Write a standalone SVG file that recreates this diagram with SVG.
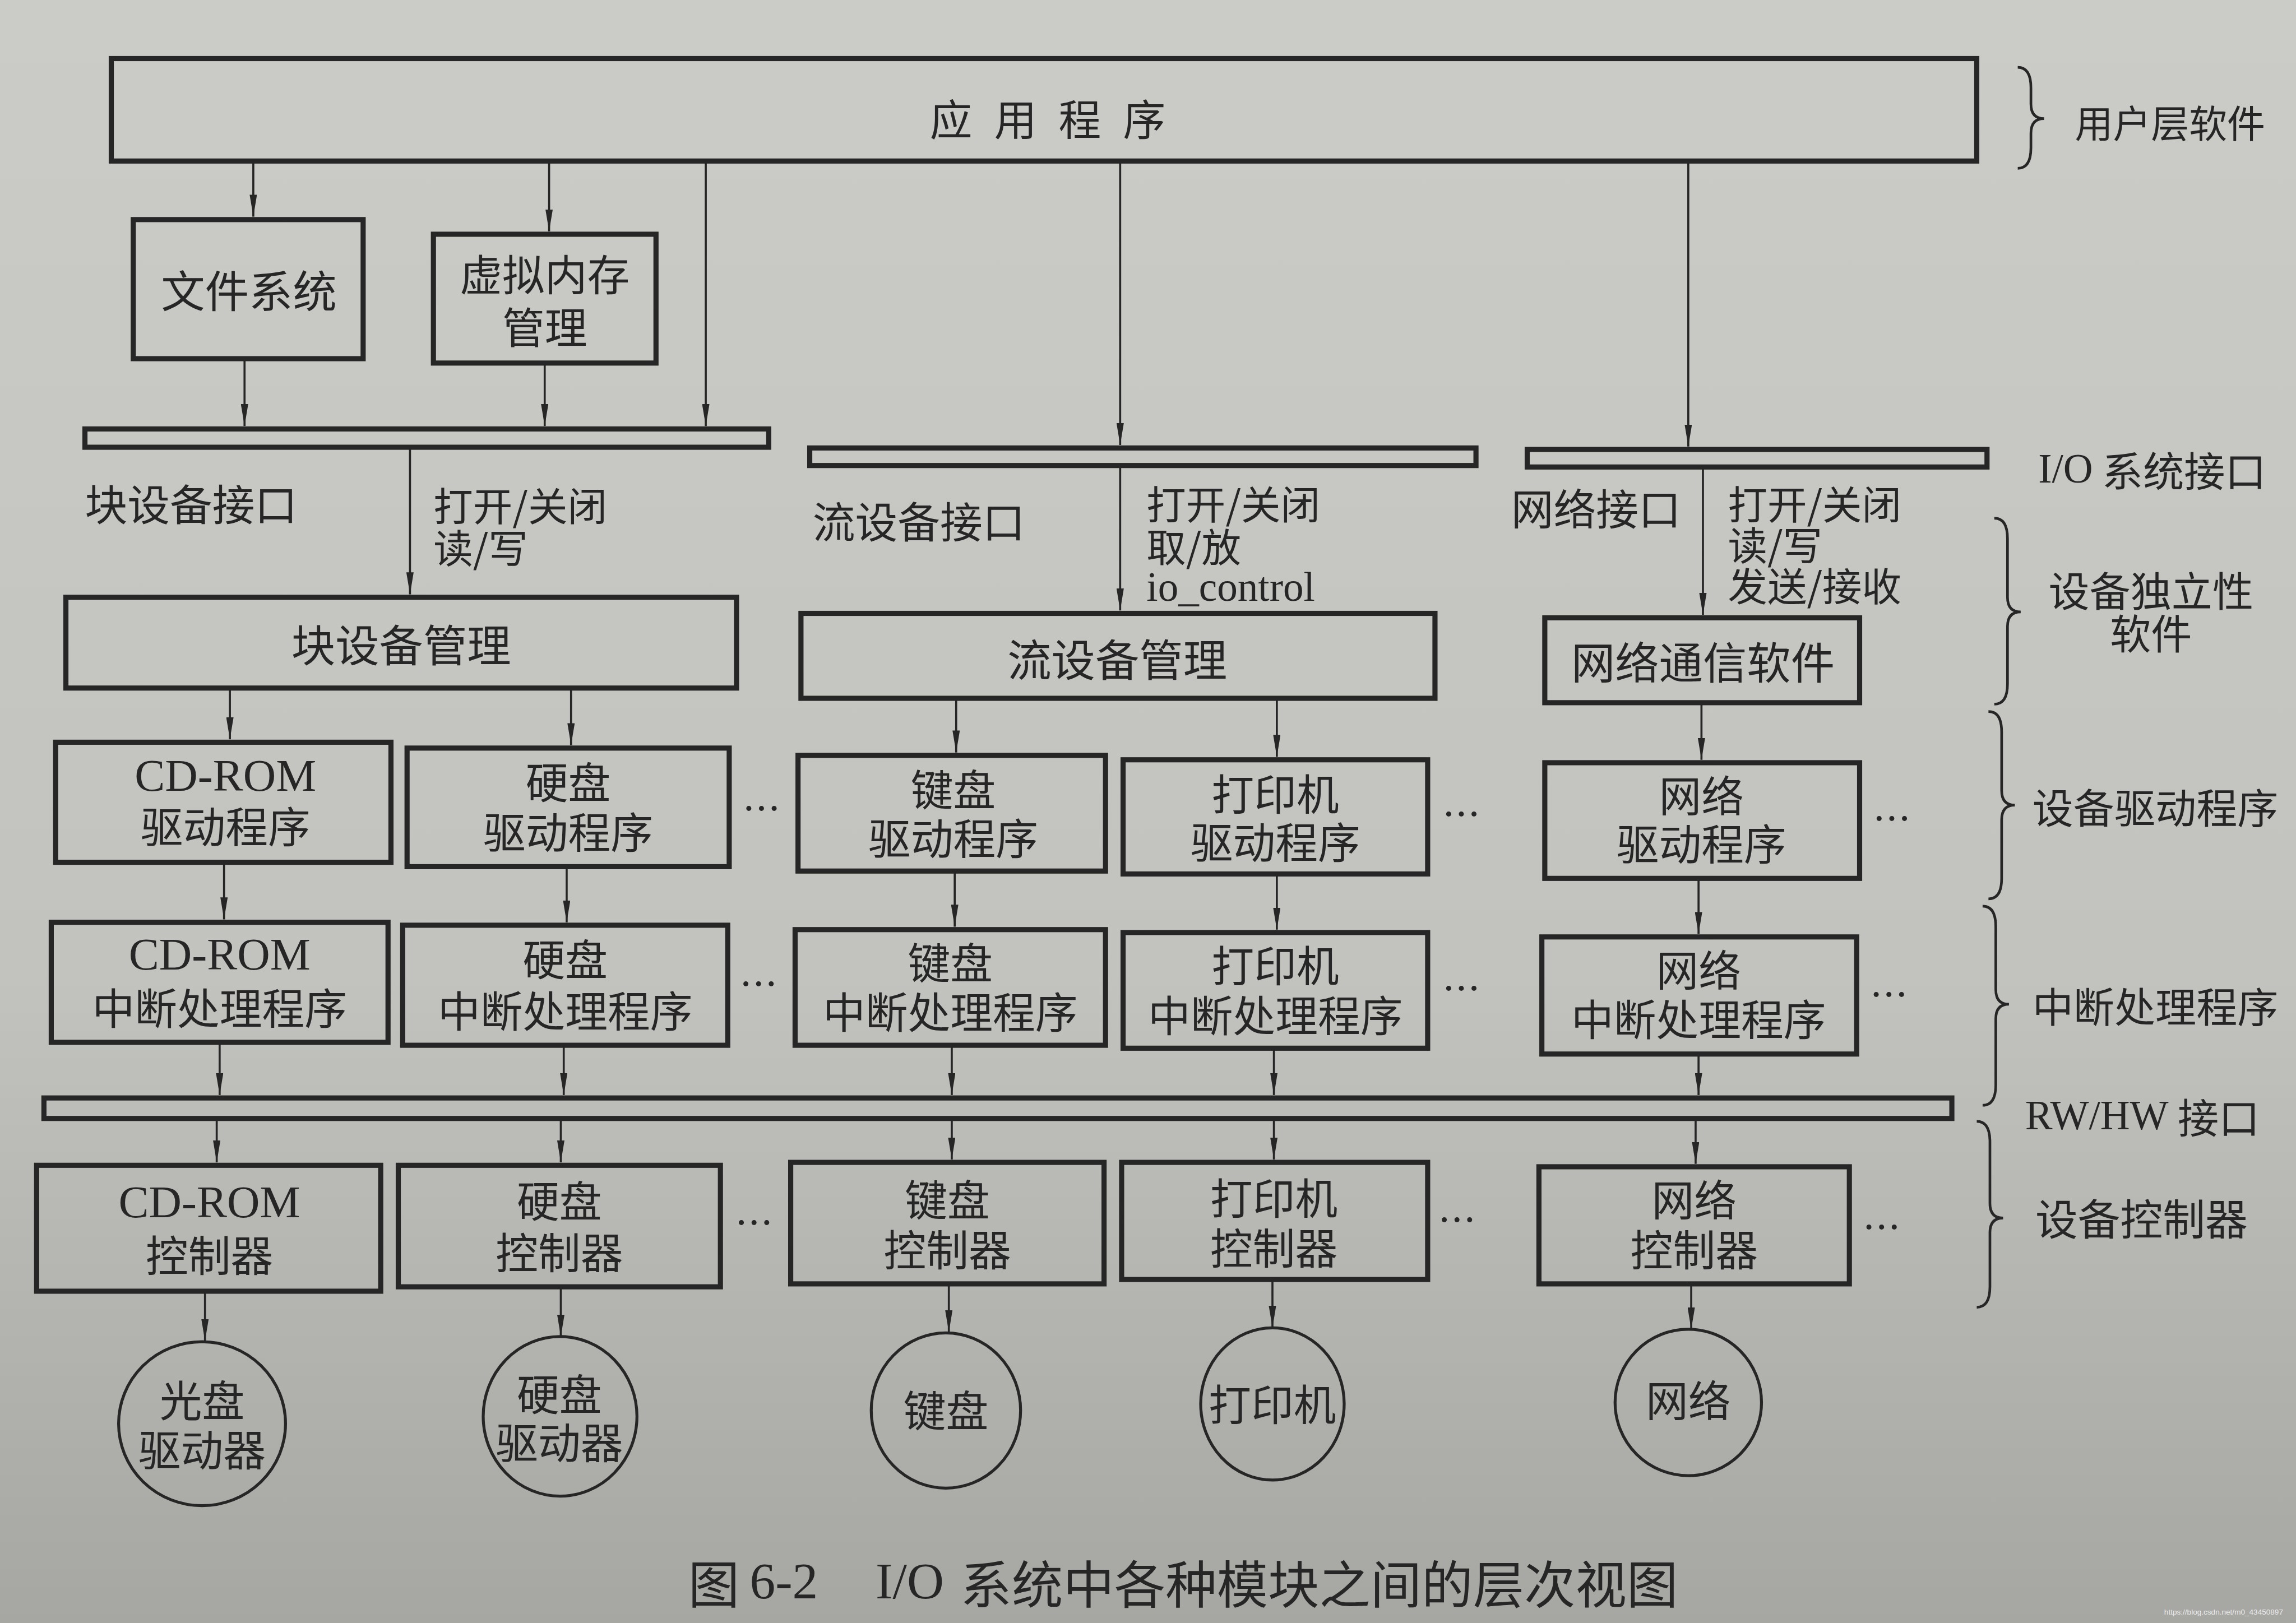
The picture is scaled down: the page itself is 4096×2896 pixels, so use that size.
<svg xmlns="http://www.w3.org/2000/svg" width="4096" height="2896" viewBox="0 0 4096 2896">
<defs>
<linearGradient id="bg" x1="0" y1="0" x2="0" y2="1">
<stop offset="0" stop-color="#cbcbc7"/>
<stop offset="0.6" stop-color="#c2c2be"/>
<stop offset="1" stop-color="#a6a6a2"/>
</linearGradient>
<marker id="ah" viewBox="0 0 15 5" refX="15" refY="2.5" markerWidth="15" markerHeight="5" orient="auto" markerUnits="userSpaceOnUse">
<path d="M0,0 L15,2.5 L0,5 Z" fill="#262626"/>
</marker>
<style>
.t{font-family:"Noto Sans CJK SC","Noto Sans",sans-serif;font-size:29px;fill:#262626;dominant-baseline:central}
.c{text-anchor:middle}
.s{font-family:"Liberation Serif","Noto Sans CJK SC",serif}
.box{fill:none;stroke:#262626;stroke-width:3.5}
.bar{fill:none;stroke:#262626;stroke-width:3.5}
.ell{fill:none;stroke:#262626;stroke-width:2}
.ln{fill:none;stroke:#262626;stroke-width:1.4;marker-end:url(#ah)}
.br{fill:none;stroke:#262626;stroke-width:1.8}
.r{font-size:28px}
.sl{font-size:27px}
.dots{font-size:26px}
</style>
</defs>
<rect x="0" y="0" width="4096" height="2896" fill="url(#bg)"/>
<g transform="scale(2.6122)">

<g id="connectors">
<line class="ln" x1="173" y1="110" x2="173" y2="148"/>
<line class="ln" x1="375" y1="110" x2="375" y2="158"/>
<line class="ln" x1="482" y1="110" x2="482" y2="291"/>
<line class="ln" x1="765" y1="110" x2="765" y2="304"/>
<line class="ln" x1="1153" y1="110" x2="1153" y2="305"/>
<line class="ln" x1="167" y1="245" x2="167" y2="291"/>
<line class="ln" x1="372" y1="248" x2="372" y2="291"/>
<line class="ln" x1="280" y1="306" x2="280" y2="406"/>
<line class="ln" x1="765" y1="318" x2="765" y2="417"/>
<line class="ln" x1="1163" y1="319" x2="1163" y2="420"/>
<line class="ln" x1="157" y1="470" x2="157" y2="505"/>
<line class="ln" x1="390" y1="470" x2="390" y2="509"/>
<line class="ln" x1="653" y1="477" x2="653" y2="514"/>
<line class="ln" x1="872" y1="477" x2="872" y2="517"/>
<line class="ln" x1="1162" y1="480" x2="1162" y2="519"/>
<line class="ln" x1="153" y1="589" x2="153" y2="628"/>
<line class="ln" x1="387" y1="592" x2="387" y2="630"/>
<line class="ln" x1="652" y1="595" x2="652" y2="633"/>
<line class="ln" x1="872" y1="597" x2="872" y2="635"/>
<line class="ln" x1="1160" y1="600" x2="1160" y2="638"/>
<line class="ln" x1="150" y1="712" x2="150" y2="748"/>
<line class="ln" x1="385" y1="714" x2="385" y2="748"/>
<line class="ln" x1="650" y1="714" x2="650" y2="748"/>
<line class="ln" x1="870" y1="716" x2="870" y2="748"/>
<line class="ln" x1="1160" y1="720" x2="1160" y2="748"/>
<line class="ln" x1="148" y1="765" x2="148" y2="794"/>
<line class="ln" x1="383" y1="765" x2="383" y2="794"/>
<line class="ln" x1="650" y1="765" x2="650" y2="792"/>
<line class="ln" x1="870" y1="765" x2="870" y2="792"/>
<line class="ln" x1="1158" y1="765" x2="1158" y2="795"/>
<line class="ln" x1="140" y1="882" x2="140" y2="916"/>
<line class="ln" x1="383" y1="879" x2="383" y2="913"/>
<line class="ln" x1="648" y1="877" x2="648" y2="910"/>
<line class="ln" x1="869" y1="874" x2="869" y2="907"/>
<line class="ln" x1="1155" y1="877" x2="1155" y2="908"/>
</g>

<g id="app"><rect class="box" x="76" y="40" width="1274" height="70"/><text class="t" x="635" y="80" style="letter-spacing:15px">应用程序</text></g>
<g id="filesys"><rect class="box" x="91" y="150" width="157" height="95"/><text class="t c" x="170" y="197" style="font-size:30px">文件系统</text></g>
<g id="vmem"><rect class="box" x="296" y="160" width="152" height="88"/><text class="t c" x="372" y="186">虚拟内存</text><text class="t c" x="372" y="222">管理</text></g>

<g id="bar-block"><rect class="bar" x="58" y="293" width="467" height="12.5"/></g>
<g id="bar-stream"><rect class="bar" x="553" y="306" width="455" height="12"/></g>
<g id="bar-net"><rect class="bar" x="1043" y="307" width="314" height="12"/></g>

<g id="lbl-block"><text class="t" x="58" y="343">块设备接口</text><text class="t sl" x="296" y="344">打开/关闭</text><text class="t sl" x="296" y="373">读/写</text></g>
<g id="lbl-stream"><text class="t" x="555" y="355">流设备接口</text><text class="t sl" x="783" y="343">打开/关闭</text><text class="t sl" x="783" y="372">取/放</text><text class="t s" x="783" y="401" style="font-size:28px">io_control</text></g>
<g id="lbl-net"><text class="t" x="1032" y="346">网络接口</text><text class="t sl" x="1180" y="343">打开/关闭</text><text class="t sl" x="1180" y="371">读/写</text><text class="t sl" x="1180" y="399">发送/接收</text></g>

<g id="blkmgr"><rect class="box" x="45" y="408" width="458" height="62"/><text class="t c" x="274" y="439" style="font-size:30px">块设备管理</text></g>
<g id="strmgr"><rect class="box" x="547" y="419" width="433" height="58"/><text class="t c" x="763" y="449" style="font-size:30px">流设备管理</text></g>
<g id="netsw"><rect class="box" x="1055" y="422" width="215" height="58"/><text class="t c" x="1163" y="451" style="font-size:30px">网络通信软件</text></g>

<g id="drv-cd"><rect class="box" x="38" y="507" width="229" height="82"/><text class="t c s" x="154" y="530" style="font-size:31px">CD-ROM</text><text class="t c" x="154" y="563">驱动程序</text></g>
<g id="drv-hd"><rect class="box" x="278" y="511" width="220" height="81"/><text class="t c" x="388" y="533">硬盘</text><text class="t c" x="388" y="567">驱动程序</text></g>
<g id="drv-kb"><rect class="box" x="545" y="516" width="210" height="79"/><text class="t c" x="651" y="538">键盘</text><text class="t c" x="651" y="571">驱动程序</text></g>
<g id="drv-pr"><rect class="box" x="767" y="519" width="208" height="78"/><text class="t c" x="871" y="541">打印机</text><text class="t c" x="871" y="574">驱动程序</text></g>
<g id="drv-nt"><rect class="box" x="1055" y="521" width="215" height="79"/><text class="t c" x="1162" y="542">网络</text><text class="t c" x="1162" y="575">驱动程序</text></g>
<g id="dots-drv"><text class="t c dots" x="520" y="551">…</text><text class="t c dots" x="998" y="555">…</text><text class="t c dots" x="1292" y="558">…</text></g>

<g id="int-cd"><rect class="box" x="35" y="630" width="230" height="82"/><text class="t c s" x="150" y="652" style="font-size:31px">CD-ROM</text><text class="t c" x="150" y="687">中断处理程序</text></g>
<g id="int-hd"><rect class="box" x="275" y="632" width="222" height="82"/><text class="t c" x="386" y="654">硬盘</text><text class="t c" x="386" y="689">中断处理程序</text></g>
<g id="int-kb"><rect class="box" x="543" y="635" width="212" height="79"/><text class="t c" x="649" y="656">键盘</text><text class="t c" x="649" y="690">中断处理程序</text></g>
<g id="int-pr"><rect class="box" x="767" y="637" width="208" height="79"/><text class="t c" x="871" y="658">打印机</text><text class="t c" x="871" y="692">中断处理程序</text></g>
<g id="int-nt"><rect class="box" x="1053" y="640" width="215" height="80"/><text class="t c" x="1160" y="661">网络</text><text class="t c" x="1160" y="695">中断处理程序</text></g>
<g id="dots-int"><text class="t c dots" x="518" y="671">…</text><text class="t c dots" x="998" y="674">…</text><text class="t c dots" x="1290" y="678">…</text></g>

<g id="bar-rwhw"><rect class="bar" x="30" y="750" width="1303" height="14"/></g>

<g id="ctl-cd"><rect class="box" x="25" y="796" width="235" height="86"/><text class="t c s" x="143" y="821" style="font-size:31px">CD-ROM</text><text class="t c" x="143" y="856">控制器</text></g>
<g id="ctl-hd"><rect class="box" x="272" y="796" width="220" height="83"/><text class="t c" x="382" y="819">硬盘</text><text class="t c" x="382" y="854">控制器</text></g>
<g id="ctl-kb"><rect class="box" x="540" y="794" width="214" height="83"/><text class="t c" x="647" y="818">键盘</text><text class="t c" x="647" y="852">控制器</text></g>
<g id="ctl-pr"><rect class="box" x="766" y="794" width="209" height="80"/><text class="t c" x="870" y="817">打印机</text><text class="t c" x="870" y="851">控制器</text></g>
<g id="ctl-nt"><rect class="box" x="1051" y="797" width="212" height="80"/><text class="t c" x="1157" y="818">网络</text><text class="t c" x="1157" y="852">控制器</text></g>
<g id="dots-ctl"><text class="t c dots" x="515" y="834">…</text><text class="t c dots" x="995" y="832">…</text><text class="t c dots" x="1285" y="837">…</text></g>

<g id="dev-cd"><ellipse class="ell" cx="138" cy="972.5" rx="57" ry="56"/><text class="t c" x="138" y="955">光盘</text><text class="t c" x="138" y="989">驱动器</text></g>
<g id="dev-hd"><ellipse class="ell" cx="382.5" cy="967.5" rx="52.5" ry="54.5"/><text class="t c" x="382" y="951">硬盘</text><text class="t c" x="382" y="984">驱动器</text></g>
<g id="dev-kb"><ellipse class="ell" cx="646" cy="963.5" rx="51" ry="53"/><text class="t c" x="646" y="962">键盘</text></g>
<g id="dev-pr"><ellipse class="ell" cx="869" cy="959" rx="49" ry="52"/><text class="t c" x="869" y="958">打印机</text></g>
<g id="dev-nt"><ellipse class="ell" cx="1153" cy="958" rx="50" ry="50"/><text class="t c" x="1153" y="955">网络</text></g>

<g id="layer-labels">
<path class="br" d="M1378,46 Q1387,46 1387,60 L1387,71 Q1387,81 1396,81 Q1387,81 1387,91 L1387,101 Q1387,115 1378,115"/>
<text class="t" x="1417" y="83" style="font-size:26px">用户层软件</text>
<text class="t r" x="1392" y="320"><tspan class="s">I/O</tspan> 系统接口</text>
<path class="br" d="M1362,354 Q1371,354 1371,368 L1371,408 Q1371,418 1380,418 Q1371,418 1371,428 L1371,467 Q1371,481 1362,481"/>
<text class="t c r" x="1469" y="402">设备独立性</text>
<text class="t c r" x="1469" y="431">软件</text>
<path class="br" d="M1358,486 Q1367,486 1367,500 L1367,540 Q1367,550 1376,550 Q1367,550 1367,560 L1367,600 Q1367,614 1358,614"/>
<text class="t r" x="1388" y="550">设备驱动程序</text>
<path class="br" d="M1354,619 Q1363,619 1363,633 L1363,676 Q1363,686 1372,686 Q1363,686 1363,696 L1363,741 Q1363,755 1354,755"/>
<text class="t r" x="1388" y="686">中断处理程序</text>
<text class="t r" x="1383" y="762"><tspan class="s">RW/HW</tspan> 接口</text>
<path class="br" d="M1350,766 Q1359,766 1359,780 L1359,822 Q1359,832 1368,832 Q1359,832 1359,842 L1359,879 Q1359,893 1350,893"/>
<text class="t" x="1390" y="831" style="font-size:29px">设备控制器</text>
</g>

<g id="caption">
<text class="t" y="1080" style="font-size:35px"><tspan x="470">图</tspan><tspan class="s" x="512">6-2</tspan><tspan class="s" x="598">I/O</tspan><tspan x="656">系统中各种模块之间的层次视图</tspan></text>
</g>
<text x="1478" y="1103" style="font-family:'Liberation Sans',sans-serif;font-size:5.2px;fill:#ececec">https://blog.csdn.net/m0_43450897</text>
</g>
</svg>
